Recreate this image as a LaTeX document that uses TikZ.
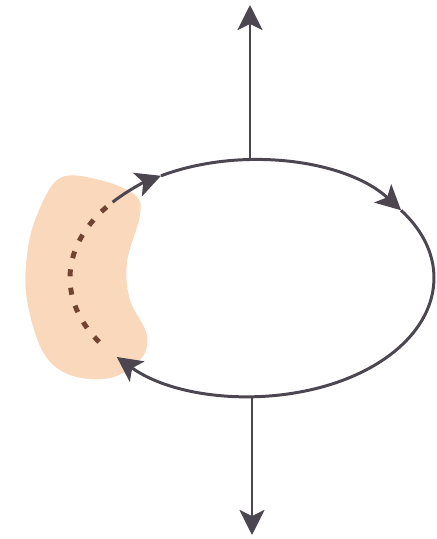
\documentclass[tikz,border=0pt]{standalone}
\usetikzlibrary{arrows.meta}
\definecolor{loopgray}{RGB}{75,70,80}
\definecolor{dashbrown}{RGB}{112,68,48}
\definecolor{glow}{RGB}{250,216,188}
\begin{document}
\begin{tikzpicture}[x=0.02cm,y=0.02cm,>={Stealth[length=0.5cm,width=0.5cm,inset=0.12cm]},
  flow/.style={draw=loopgray,line width=1.7pt,->},
  gap/.style={draw=dashbrown,line width=2.8pt,dash pattern=on 4pt off 6.5pt}]
\useasboundingbox (0,0) rectangle (437,539);
% glow patch on the left
\fill[glow] plot[smooth cycle,tension=0.6] coordinates {(60,361) (100,359) (135,344) (140,324) (127,277) (130,239) (147,204) (140,179) (110,161) (70,164) (43,187) (27,239) (27,284) (37,324)};
\coordinate (c) at (252,261);
\coordinate (jtop) at (250,379);
\coordinate (jbot) at (252,143);
\coordinate (top) at (250,534);
\coordinate (bot) at (252,4);
% loop
\draw[gap] ([shift={(143:182 and 118)}]c) arc[start angle=143,end angle=216,x radius=182,y radius=118];
\draw[flow] ([shift={(140:182 and 118)}]c) arc[start angle=140,end angle=120,x radius=182,y radius=118];
\draw[flow] ([shift={(120:182 and 118)}]c) arc[start angle=120,end angle=35,x radius=182,y radius=118];
\draw[flow] ([shift={(35:182 and 118)}]c) arc[start angle=35,end angle=-138,x radius=182,y radius=118];
% stems
\draw[flow] (jtop) -- (top);
\draw[flow] (jbot) -- (bot);
\end{tikzpicture}
\end{document}
